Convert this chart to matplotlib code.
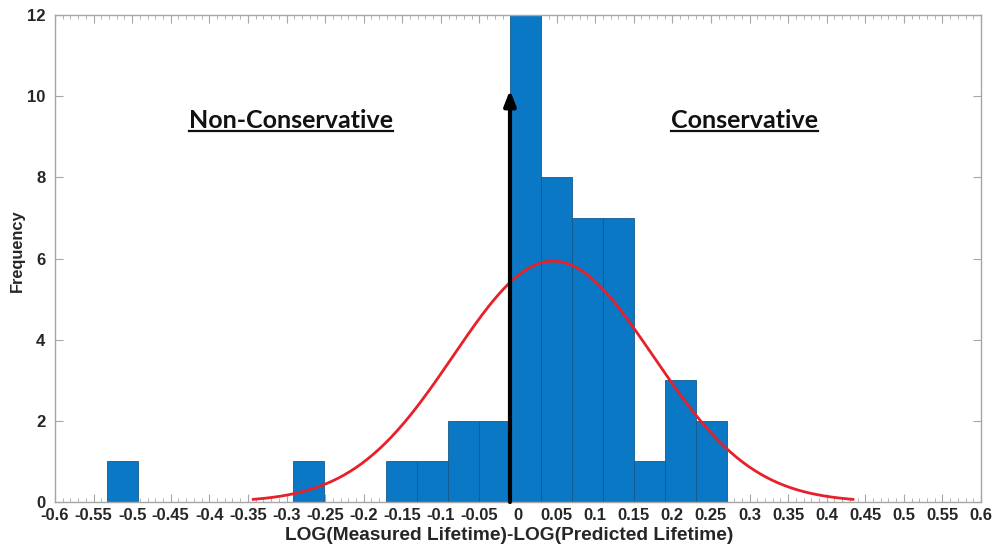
import numpy as np
import matplotlib
matplotlib.use("Agg")
import matplotlib.pyplot as plt
from matplotlib.ticker import MultipleLocator, FixedLocator
from matplotlib.lines import Line2D

# ---- data ----
bin_start = -0.5326
bin_width = 0.04015
counts = [1, 0, 0, 0, 0, 0, 1, 0, 0, 1, 1, 2, 2, 12, 8, 7, 7, 1, 3, 2]
fit_mu = 0.0455
fit_sigma = 0.1295
arrow_x = -0.0104
arrow_top = 10.15
xticks = [-0.6, -0.55, -0.5, -0.45, -0.4, -0.35, -0.3, -0.25, -0.2, -0.15, -0.1, -0.05,
          0, 0.05, 0.1, 0.15, 0.2, 0.25, 0.3, 0.35, 0.4, 0.45, 0.5, 0.55, 0.6]
xtick_labels = ['-0.6', '-0.55', '-0.5', '-0.45', '-0.4', '-0.35', '-0.3', '-0.25', '-0.2',
                '-0.15', '-0.1', '-0.05', '0', '0.05', '0.1', '0.15', '0.2', '0.25', '0.3',
                '0.35', '0.4', '0.45', '0.5', '0.55', '0.6']
yticks = [0, 2, 4, 6, 8, 10, 12]
labels_region = ['Non-Conservative', 'Conservative']
labels_x = [-0.294, 0.293]
labels_y = [9.4, 9.4]

plt.rcParams['font.family'] = ['Liberation Sans', 'DejaVu Sans']

fig = plt.figure(figsize=(9.98, 5.48), dpi=100)
ax = fig.add_axes([0.0551, 0.0839, 0.983 - 0.0551, 0.9726 - 0.0839])

edges = bin_start + bin_width * np.arange(len(counts) + 1)
lefts = edges[:-1]
ax.bar(lefts, counts, width=bin_width, align='edge', color='#0a78c4',
       edgecolor='#155a8c', linewidth=0.6, zorder=2)

# normal fit (histfit style, mu +- 3 sigma)
n_total = sum(counts)
xs = np.linspace(fit_mu - 3 * fit_sigma, fit_mu + 3 * fit_sigma, 300)
ys = n_total * bin_width / (fit_sigma * np.sqrt(2 * np.pi)) * np.exp(-0.5 * ((xs - fit_mu) / fit_sigma) ** 2)
ax.plot(xs, ys, color='#e8202a', lw=2, zorder=3)

# arrow
ax.annotate('', xy=(arrow_x, arrow_top), xytext=(arrow_x, 0),
            arrowprops=dict(arrowstyle='-|>,head_length=0.9,head_width=0.35',
                            color='black', lw=3, shrinkA=0, shrinkB=0), zorder=4)

ax.set_xlim(-0.6, 0.6)
ax.set_ylim(0, 12)
ax.xaxis.set_major_locator(FixedLocator(xticks))
ax.set_xticklabels(xtick_labels, fontweight='bold', fontsize=12)
ax.xaxis.set_minor_locator(MultipleLocator(0.01))
ax.set_yticks(yticks)
ax.set_yticklabels([str(v) for v in yticks], fontweight='bold', fontsize=12)

axis_col = '#a6a6a6'
for s in ax.spines.values():
    s.set_color(axis_col)
    s.set_linewidth(1.0)
ax.tick_params(which='both', direction='in', top=True, right=True, color=axis_col,
               labelcolor='#262626')
ax.tick_params(which='major', length=6, width=0.8)
ax.tick_params(which='minor', length=3, width=0.6)
ax.tick_params(axis='x', pad=4)
ax.tick_params(axis='y', pad=7)

ax.set_xlabel('LOG(Measured Lifetime)-LOG(Predicted Lifetime)', fontweight='bold',
              fontsize=13.8, color='#262626', labelpad=0)
ax.xaxis.set_label_coords(0.49, -0.052)
ax.set_ylabel('Frequency', fontweight='bold', fontsize=11.8, color='#262626')
ax.yaxis.set_label_coords(-0.041, 0.517)
ax.yaxis.label.set_verticalalignment('center')

texts = []
for lab, tx, ty in zip(labels_region, labels_x, labels_y):
    t = ax.text(tx, ty, lab, ha='center', va='center', fontsize=18,
                fontweight='bold', family=['Lato', 'DejaVu Sans'], color='#111111', zorder=5)
    texts.append(t)

# underline the region labels
fig.canvas.draw()
renderer = fig.canvas.get_renderer()
inv = fig.transFigure.inverted()
for t in texts:
    bb = t.get_window_extent(renderer)
    (x0, y0) = inv.transform((bb.x0, bb.y0 + 1))
    (x1, _) = inv.transform((bb.x1, bb.y0 + 1))
    fig.add_artist(Line2D([x0, x1], [y0, y0], transform=fig.transFigure,
                          color='#111111', lw=1.6))

fig.savefig('out.png', dpi=100, facecolor='white')
